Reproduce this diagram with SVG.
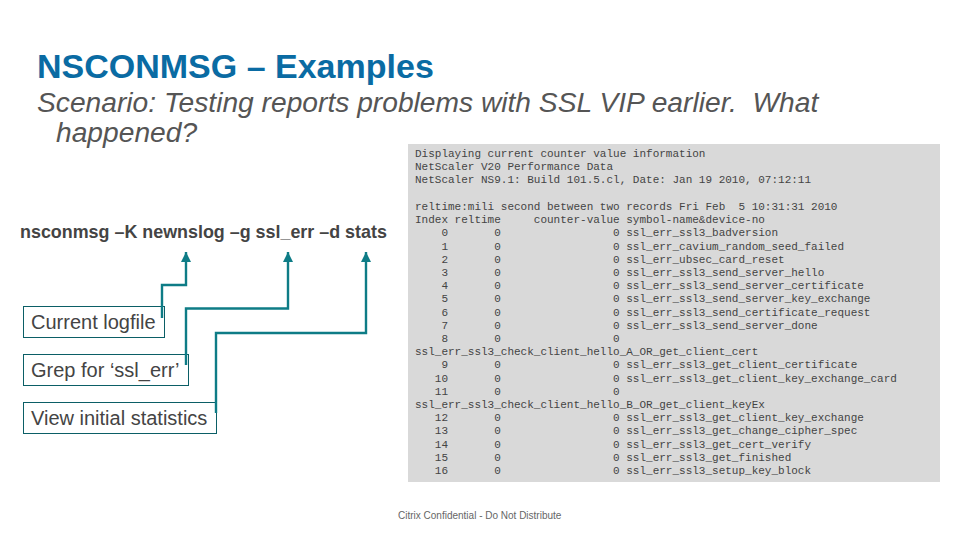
<svg xmlns="http://www.w3.org/2000/svg" width="960" height="540" viewBox="0 0 960 540">
<style>
text{font-family:"Liberation Sans",Arial,sans-serif}
.m{font-family:"Liberation Mono","Courier New",monospace;font-size:11px;fill:#444;white-space:pre}
.l{font-size:20px;fill:#444}
.b{fill:#fff;stroke:#0b5e66;stroke-width:1}
.c{fill:none;stroke:#0e7c86;stroke-width:2.400}
</style>
<defs><marker id="a" markerUnits="userSpaceOnUse" markerWidth="12" markerHeight="10" refX="10" refY="5" orient="auto"><path d="M0 0L10 5L0 10Z" fill="#0e7c86"/></marker></defs>
<rect width="960" height="540" fill="#fff"/>
<text id="title" x="37" y="78" font-size="34" font-weight="700" fill="#0a6ba3">NSCONMSG – Examples</text>
<text id="subtitle1" x="37" y="112" font-size="28.200" font-style="italic" fill="#555" xml:space="preserve">Scenario: Testing reports problems with SSL VIP earlier.  What</text>
<text id="subtitle2" x="56" y="142" font-size="28.200" font-style="italic" fill="#555">happened?</text>
<text id="command" x="20" y="238" font-size="17.900" font-weight="700" fill="#444">nsconmsg –K newnslog –g ssl_err –d stats</text>
<g id="node-logfile"><rect class="b" x="23.5" y="306.5" width="141" height="31"/><text class="l" x="31" y="328.500">Current logfile</text></g>
<g id="node-grep"><rect class="b" x="23.5" y="354.5" width="165" height="31"/><text class="l" x="31" y="376.500">Grep for ‘ssl_err’</text></g>
<g id="node-stats"><rect class="b" x="23.5" y="402.5" width="193" height="31"/><text class="l" x="31" y="424.500">View initial statistics</text></g>
<g id="connectors">
<path class="c" marker-end="url(#a)" d="M162 318V285H186V252"/>
<path class="c" marker-end="url(#a)" d="M186 365V308.500H288V252"/>
<path class="c" marker-end="url(#a)" d="M216 413V333H366V252"/>
</g>
<g id="console">
<rect x="408" y="144" width="532" height="338" fill="#d9d9d9"/>
<text class="m" x="415" y="157">Displaying current counter value information</text>
<text class="m" x="415" y="170.200">NetScaler V20 Performance Data</text>
<text class="m" x="415" y="183.400">NetScaler NS9.1: Build 101.5.cl, Date: Jan 19 2010, 07:12:11</text>
<text class="m" x="415" y="210">reltime:mili second between two records Fri Feb  5 10:31:31 2010</text>
<text class="m" x="415" y="223.200">Index reltime     counter-value symbol-name&amp;device-no</text>
<text class="m" x="415" y="236.400">    0       0                 0 ssl_err_ssl3_badversion</text>
<text class="m" x="415" y="249.600">    1       0                 0 ssl_err_cavium_random_seed_failed</text>
<text class="m" x="415" y="262.800">    2       0                 0 ssl_err_ubsec_card_reset</text>
<text class="m" x="415" y="276">    3       0                 0 ssl_err_ssl3_send_server_hello</text>
<text class="m" x="415" y="289.200">    4       0                 0 ssl_err_ssl3_send_server_certificate</text>
<text class="m" x="415" y="302.400">    5       0                 0 ssl_err_ssl3_send_server_key_exchange</text>
<text class="m" x="415" y="315.600">    6       0                 0 ssl_err_ssl3_send_certificate_request</text>
<text class="m" x="415" y="328.800">    7       0                 0 ssl_err_ssl3_send_server_done</text>
<text class="m" x="415" y="342">    8       0                 0</text>
<text class="m" x="415" y="355.200">ssl_err_ssl3_check_client_hello_A_OR_get_client_cert</text>
<text class="m" x="415" y="368.400">    9       0                 0 ssl_err_ssl3_get_client_certificate</text>
<text class="m" x="415" y="381.600">   10       0                 0 ssl_err_ssl3_get_client_key_exchange_card</text>
<text class="m" x="415" y="394.800">   11       0                 0</text>
<text class="m" x="415" y="408">ssl_err_ssl3_check_client_hello_B_OR_get_client_keyEx</text>
<text class="m" x="415" y="421.200">   12       0                 0 ssl_err_ssl3_get_client_key_exchange</text>
<text class="m" x="415" y="434.400">   13       0                 0 ssl_err_ssl3_get_change_cipher_spec</text>
<text class="m" x="415" y="447.600">   14       0                 0 ssl_err_ssl3_get_cert_verify</text>
<text class="m" x="415" y="460.800">   15       0                 0 ssl_err_ssl3_get_finished</text>
<text class="m" x="415" y="474">   16       0                 0 ssl_err_ssl3_setup_key_block</text>
</g>
<text id="footer" x="398" y="519" font-size="10" fill="#666">Citrix Confidential - Do Not Distribute</text>
</svg>
